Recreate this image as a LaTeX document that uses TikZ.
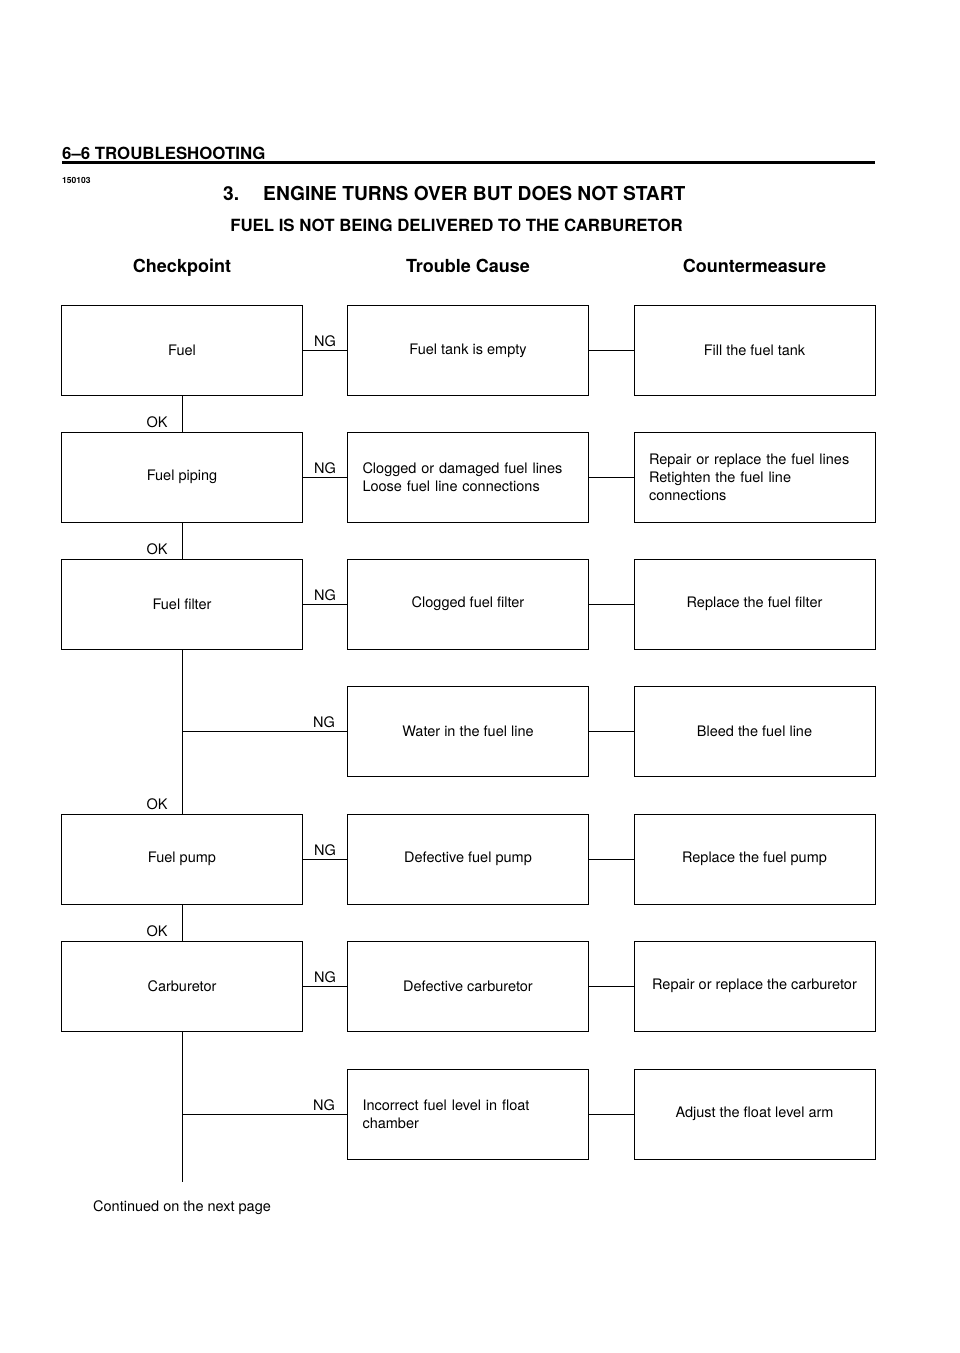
\documentclass[tikz,border=0pt]{standalone}
\usepackage{fontspec}
\setmainfont{TeX Gyre Heros}
\begin{document}
\begin{tikzpicture}[x=1pt,y=-1pt,
  txt/.style={font=\fontsize{14.5}{18}\selectfont},
  box/.style={draw, line width=0.85pt, minimum width=241pt, minimum height=90pt,
    inner sep=0pt, txt, align=center},
  lbox/.style={box, align=left, text width=211pt},
  conn/.style={line width=0.85pt},
  nglab/.style={txt, anchor=base, inner sep=0pt, yshift=4pt},
  oklab/.style={txt, anchor=base east, inner sep=0pt, xshift=-14pt, yshift=4pt},
  head/.style={font=\bfseries\fontsize{18}{21}\selectfont, anchor=base, inner sep=0pt}]
\useasboundingbox (0,0) rectangle (960,1353);
\fill[white] (0,0) rectangle (960,1353);

% header
\node[anchor=base west, font=\bfseries\fontsize{16.8}{18}\selectfont, inner sep=0pt] (hdr) at (62,159) {6–6 TROUBLESHOOTING};
\draw[line width=2.5pt] (62,162.5) -- (875,162.5);
\node[anchor=base west, font=\bfseries\fontsize{8.5}{10}\selectfont, inner sep=0pt] (code) at (62,183) {150103};
\node[anchor=base west, font=\bfseries\fontsize{19.2}{22}\selectfont, inner sep=0pt] (title) at (223,200) {3.\hspace{24pt}ENGINE TURNS OVER BUT DOES NOT START};
\node[anchor=base, font=\bfseries\fontsize{16.8}{20}\selectfont, inner sep=0pt] (sub) at (456.5,231) {FUEL IS NOT BEING DELIVERED TO THE CARBURETOR};
\node[head] (h1) at (182,272) {Checkpoint};
\node[head] (h2) at (468,272) {Trouble Cause};
\node[head] (h3) at (754.5,272) {Countermeasure};

% boxes
\node[box] (c1) at (182,350.5) {Fuel};
\node[box] (t1) at (468,350.5) {Fuel tank is empty};
\node[box] (m1) at (754.5,350.5) {Fill the fuel tank};

\node[box] (c2) at (182,477) {Fuel piping};
\node[lbox] (t2) at (468,477) {Clogged or damaged fuel lines\\Loose fuel line connections};
\node[lbox] (m2) at (754.5,477) {Repair or replace the fuel lines\\Retighten the fuel line\\connections};

\node[box] (c3) at (182,604) {Fuel filter};
\node[box] (t3) at (468,604) {Clogged fuel filter};
\node[box] (m3) at (754.5,604) {Replace the fuel filter};

\node[box] (t4) at (468,731.5) {Water in the fuel line};
\node[box] (m4) at (754.5,731.5) {Bleed the fuel line};

\node[box] (c5) at (182,859) {Fuel pump};
\node[box] (t5) at (468,859) {Defective fuel pump};
\node[box] (m5) at (754.5,859) {Replace the fuel pump};

\node[box] (c6) at (182,986) {Carburetor};
\node[box] (t6) at (468,986) {Defective carburetor};
\node[box] (m6) at (754.5,986) {Repair or replace the carburetor};

\node[lbox] (t7) at (468,1114) {Incorrect fuel level in float\\chamber};
\node[box] (m7) at (754.5,1114) {Adjust the float level arm};

\coordinate (j4) at (c3.south |- t4.west);
\coordinate (j7) at (c6.south |- t7.west);
\coordinate (trunkend) at (182,1182);

% trunk (OK)
\draw[conn] (c1.south) -- (c2.north) node[oklab] {OK};
\draw[conn] (c2.south) -- (c3.north) node[oklab] {OK};
\draw[conn] (c3.south) -- (c5.north) node[oklab] {OK};
\draw[conn] (c5.south) -- (c6.north) node[oklab] {OK};
\draw[conn] (c6.south) -- (trunkend);

% NG branches
\draw[conn] (c1.east) -- node[nglab] {NG} (t1.west);
\draw[conn] (c2.east) -- node[nglab] {NG} (t2.west);
\draw[conn] (c3.east) -- node[nglab] {NG} (t3.west);
\draw[conn] (j4) -- node[nglab, pos=0.86] {NG} (t4.west);
\draw[conn] (c5.east) -- node[nglab] {NG} (t5.west);
\draw[conn] (c6.east) -- node[nglab] {NG} (t6.west);
\draw[conn] (j7) -- node[nglab, pos=0.86] {NG} (t7.west);

% countermeasure links
\draw[conn] (t1.east) -- (m1.west);
\draw[conn] (t2.east) -- (m2.west);
\draw[conn] (t3.east) -- (m3.west);
\draw[conn] (t4.east) -- (m4.west);
\draw[conn] (t5.east) -- (m5.west);
\draw[conn] (t6.east) -- (m6.west);
\draw[conn] (t7.east) -- (m7.west);

\node[txt, anchor=base west, inner sep=0pt] (cont) at (93,1211) {Continued on the next page};
\end{tikzpicture}
\end{document}
